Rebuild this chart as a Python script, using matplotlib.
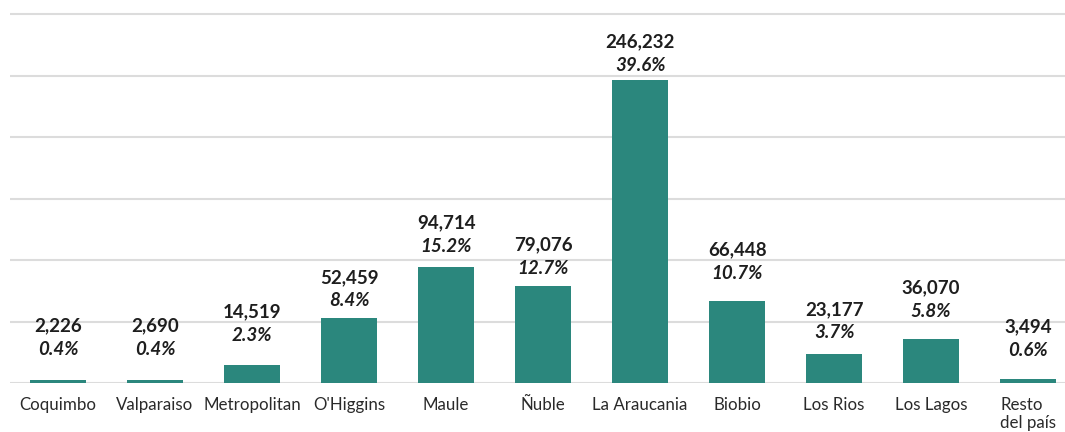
import matplotlib.pyplot as plt
import numpy as np

regions = ["Coquimbo", "Valparaiso", "Metropolitan", "O'Higgins", "Maule", "Ñuble",
           "La Araucania", "Biobio", "Los Rios", "Los Lagos", "Resto\ndel país"]
counts = [2226, 2690, 14519, 52459, 94714, 79076, 246232, 66448, 23177, 36070, 3494]
shares = [0.4, 0.4, 2.3, 8.4, 15.2, 12.7, 39.6, 10.7, 3.7, 5.8, 0.6]

# gap (px) between bar top and its label
label_pad = [22, 22, 21, 9, 12, 9, 6, 19, 13, 19, 20]

BAR = "#2b877d"
TXT = "#1e1e1e"

plt.rcParams["font.family"] = ["Lato", "DejaVu Sans"]

fig = plt.figure(figsize=(10.65, 4.32), dpi=100)
ax = fig.add_axes([10 / 1065, 1 - 383 / 432, 1 - 10 / 1065, 381.3 / 432])

x = np.arange(len(regions))
ax.bar(x, counts, width=0.58, color=BAR, zorder=2)

ax.set_xlim(-0.495, 10.38)
ax.set_ylim(0, 310000)
ax.set_yticks(np.arange(0, 300001, 50000))
ax.yaxis.grid(True, color="#dcdcdc", linewidth=1.5, zorder=0)
ax.set_axisbelow(True)
ax.tick_params(axis="y", left=False, labelleft=False)
for s in ax.spines.values():
    s.set_visible(False)

ax.set_xticks(x)
ax.set_xticklabels(regions, fontsize=12.2, color="#2a2a2a", linespacing=1.15)
ax.tick_params(axis="x", length=0, pad=10)
for lbl in ax.get_xticklabels():
    lbl.set_multialignment("left")
    lbl.set_verticalalignment("top")

for xi, c, s, pad in zip(x, counts, shares, label_pad):
    ax.annotate(f"{s:.1f}%", (xi, c), xytext=(0, pad * 0.72), textcoords="offset points",
                ha="center", va="bottom", fontsize=13.5, fontweight="bold",
                fontstyle="italic", color=TXT)
    ax.annotate(f"{c:,}", (xi, c), xytext=(0, pad * 0.72 + 17), textcoords="offset points",
                ha="center", va="bottom", fontsize=13.5, fontweight="bold", color=TXT)

fig.savefig("out.png", dpi=100, facecolor="white")
